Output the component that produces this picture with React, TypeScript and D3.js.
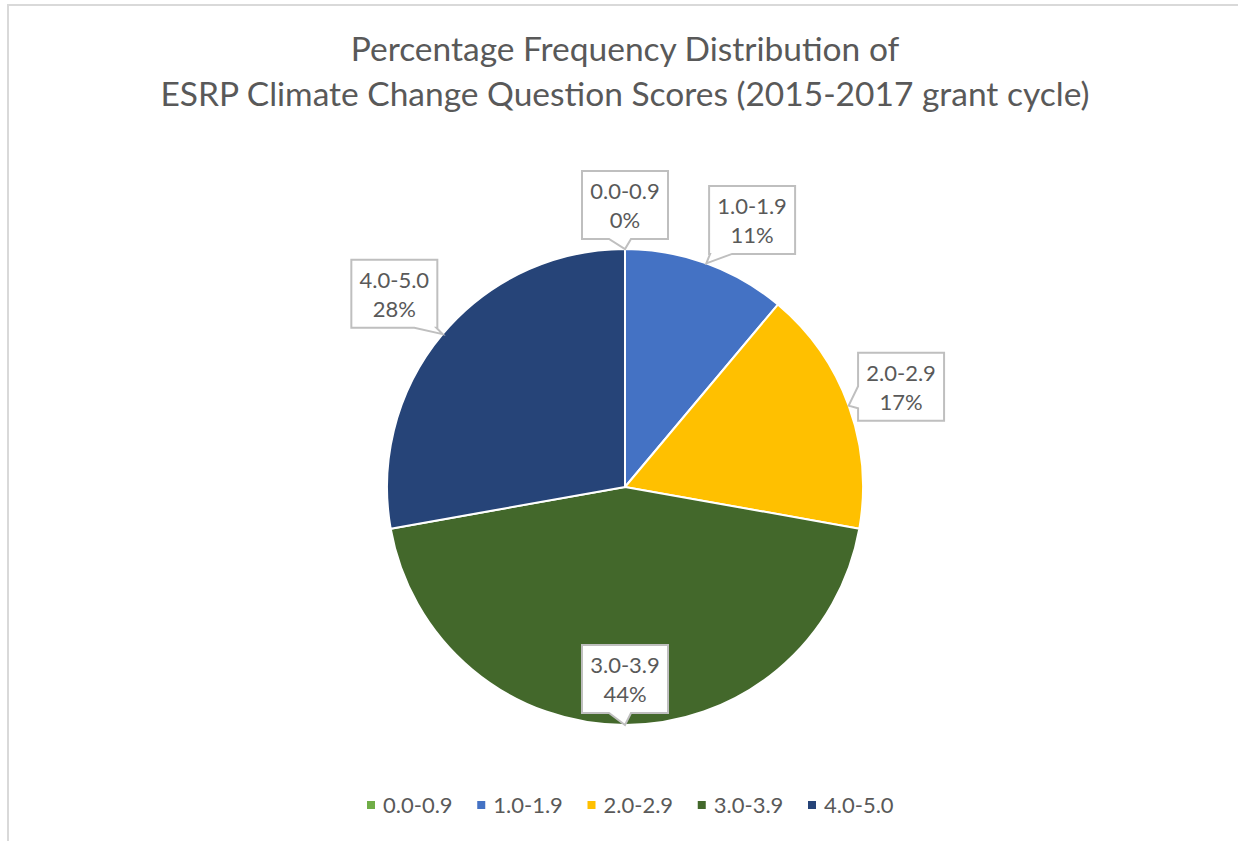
import * as React from 'react';
import * as d3 from "d3";

// score bands and their share of the 18 scored proposals (%)
const categories = ["0.0-0.9", "1.0-1.9", "2.0-2.9", "3.0-3.9", "4.0-5.0"];
const shares = [0, 11.1, 16.7, 44.4, 27.8];
const colors = ["#70AD47", "#4472C4", "#FFC000", "#43682B", "#264478"];
const titleLines = ["Percentage Frequency Distribution of", "ESRP Climate Change Question Scores (2015-2017 grant cycle)"];

const W = 1238, H = 841;
const FONT = "Lato, 'Open Sans', sans-serif";
const TEXT = "#595959";

interface Slice {
    name: string;
    value: number;
    color: string;
}

const slices: Slice[] = categories.map((c, i) => ({ name: c, value: shares[i], color: colors[i] }));

// callout box outline with a wedge pointing at (tx, ty)
function calloutPath(cx: number, cy: number, hw: number, hh: number, tx: number, ty: number) {
    const l = cx - hw, r = cx + hw, t = cy - hh, b = cy + hh;
    const dx = tx - cx, dy = ty - cy;
    let edge: string;
    if (Math.abs(dx) * hh > Math.abs(dy) * hw) edge = dx > 0 ? "right" : "left";
    else edge = dy > 0 ? "bottom" : "top";

    const base = 22;
    const span = (p: number, lo: number, hi: number) => {
        let a = p - 16, c = a + base;
        if (a < lo + 1) { a = lo + 1; c = a + base; }
        if (c > hi - 1) { c = hi - 1; a = c - base; }
        return [a, c];
    };

    const pts: [number, number][] = [[l, t]];
    if (edge === "top") {
        const [a, c] = span(cx + dx * (-hh / dy), l, r);
        pts.push([a, t], [tx, ty], [c, t]);
    }
    pts.push([r, t]);
    if (edge === "right") {
        const [a, c] = span(cy + dy * (hw / dx), t, b);
        pts.push([r, a], [tx, ty], [r, c]);
    }
    pts.push([r, b]);
    if (edge === "bottom") {
        const [a, c] = span(cx + dx * (hh / dy), l, r);
        pts.push([c, b], [tx, ty], [a, b]);
    }
    pts.push([l, b]);
    if (edge === "left") {
        const [a, c] = span(cy + dy * (-hw / dx), t, b);
        pts.push([l, c], [tx, ty], [l, a]);
    }
    return "M" + pts.map(p => p.join(",")).join("L") + "Z";
}

export default function App() {
    const cx = 625, cy = 487, radius = 238;

    const pie = d3.pie<Slice>().sort(null).value(d => d.value);
    const arcs = pie(slices);
    const arc = d3.arc<d3.PieArcDatum<Slice>>().innerRadius(0).outerRadius(radius);

    const largest = d3.max(slices, s => s.value);
    const boxHW = 43, boxHH = 34, gap = 10;
    const nudge: { [k: string]: number } = { "1.0-1.9": 30 };

    const legendX = d3.scalePoint<string>().domain(categories).range([371, 812]);

    return (
        <svg width={W} height={H} style={{ position: "absolute", left: 0, top: 0, background: "#fff" }}>
            <rect x={8} y={5} width={W + 20} height={H + 20} fill="#fff" stroke="#D9D9D9" strokeWidth={2} />

            <g fontFamily={FONT} fill={TEXT} textAnchor="middle" fontSize={33.5}>
                {titleLines.map((t, i) => (
                    <text key={i} x={cx} y={61 + i * 45}>{t}</text>
                ))}
            </g>

            <g transform={`translate(${cx},${cy})`}>
                {arcs.map((a, i) => (
                    <path key={i} d={arc(a) || undefined} fill={a.data.color} stroke="#fff" strokeWidth={2} strokeLinejoin="round" />
                ))}
            </g>

            <g fontFamily={FONT} fontSize={22} fill={TEXT} textAnchor="middle">
                {arcs.map((a, i) => {
                    const mid = (a.startAngle + a.endAngle) / 2;
                    const ux = Math.sin(mid), uy = -Math.cos(mid);
                    const tx = cx + ux * radius, ty = cy + uy * radius;
                    const edgeDist = Math.min(ux === 0 ? Infinity : boxHW / Math.abs(ux), uy === 0 ? Infinity : boxHH / Math.abs(uy));
                    const inside = a.data.value === largest;
                    const dir = inside ? -1 : 1;
                    const bx = tx + dir * ux * (edgeDist + gap + (inside ? 2 : 0)) + (nudge[a.data.name] || 0);
                    const by = ty + dir * uy * (edgeDist + gap + (inside ? 2 : 0));
                    return (
                        <g key={i}>
                            <path d={calloutPath(bx, by, boxHW, boxHH, tx, ty)} fill="#fff" stroke="#BFBFBF" strokeWidth={2} strokeLinejoin="miter" />
                            <text x={bx} y={by - 6}>{a.data.name}</text>
                            <text x={bx} y={by + 23}>{Math.round(a.data.value)}%</text>
                        </g>
                    );
                })}
            </g>

            <g fontFamily={FONT} fontSize={22} fill={TEXT}>
                {categories.map((c, i) => {
                    const x = legendX(c) || 0;
                    return (
                        <g key={c}>
                            <rect x={x - 4} y={801} width={8} height={8} fill={colors[i]} />
                            <text x={x + 12} y={813}>{c}</text>
                        </g>
                    );
                })}
            </g>
        </svg>
    );
}
